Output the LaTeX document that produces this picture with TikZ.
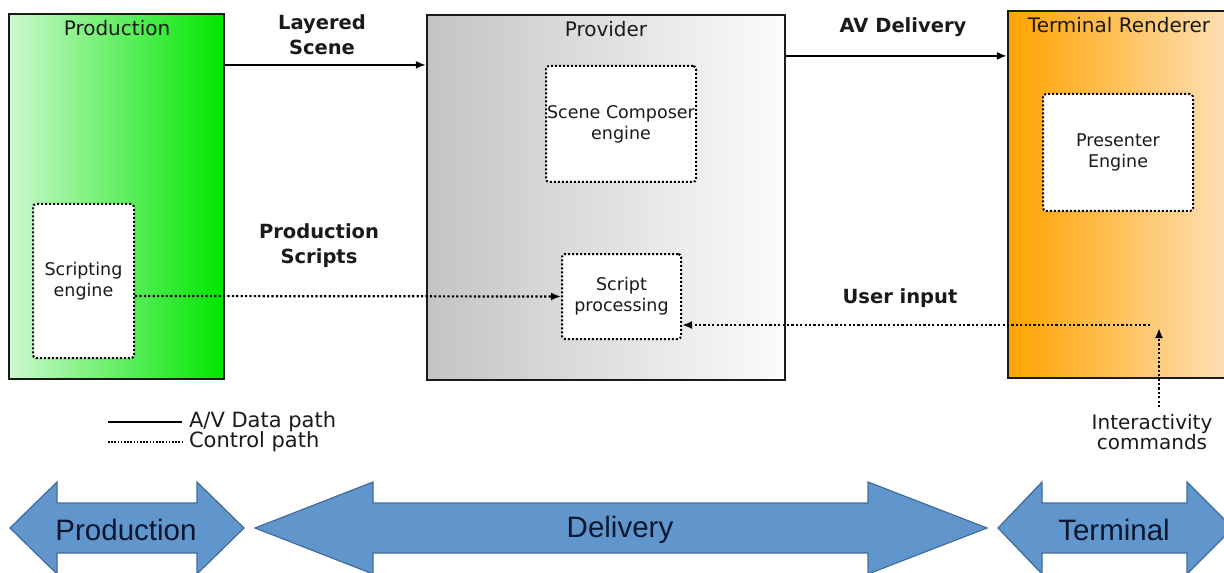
\documentclass[tikz,border=0pt]{standalone}
\usepackage{fontspec}
\setmainfont{DejaVu Sans}
\newfontfamily\stagefont{Liberation Sans}
\usetikzlibrary{arrows.meta}
\definecolor{ink}{HTML}{1A1A1A}
\definecolor{prod-light}{HTML}{CDF8CD}
\definecolor{prod-green}{HTML}{00E600}
\definecolor{prov-dark}{HTML}{C4C4C4}
\definecolor{prov-light}{HTML}{FCFCFC}
\definecolor{term-orange}{HTML}{FFA300}
\definecolor{term-light}{HTML}{FEE6C8}
\definecolor{stage-blue}{HTML}{6096CB}
\definecolor{stage-edge}{HTML}{3F6D9C}
\definecolor{stage-ink}{HTML}{0B1730}

\begin{document}
\begin{tikzpicture}[x=0.5pt, y=-0.5pt,
  every node/.style={text=ink},
  block/.style={draw=ink, line width=1.1pt, inner sep=0pt},
  engine/.style={draw=black, fill=white, line width=1pt, dash pattern=on 1pt off 1pt,
    rounded corners=1.5pt, align=center, inner sep=0pt, font=\fontsize{8.75}{10.5}\selectfont},
  boxtitle/.style={font=\fontsize{10}{12}\selectfont},
  flowlabel/.style={font=\bfseries\fontsize{9.75}{12.5}\selectfont, align=center},
  legendtext/.style={font=\fontsize{10.5}{12}\selectfont},
  avpath/.style={line width=1pt, -{Latex[length=5pt,width=4pt]}},
  ctlpath/.style={line width=1.1pt, dash pattern=on 1.1pt off 1.1pt, -{Latex[length=5pt,width=4pt]}},
  stage/.style={fill=stage-blue, draw=stage-edge, line width=0.6pt},
  stagetext/.style={font=\stagefont\fontsize{14.75}{16}\selectfont, text=stage-ink}]
  \useasboundingbox (0,0) rectangle (1224,572);
  \clip (0,0) rectangle (1224,572);

  % main blocks
  \node[block, left color=prod-light, right color=prod-green,
    minimum width=107.5pt, minimum height=182.5pt] (prod) at (116.5,196.5) {};
  \node[block, left color=prov-dark, right color=prov-light,
    minimum width=179pt, minimum height=182.5pt] (prov) at (606,197.5) {};
  \node[block, left color=term-orange, right color=term-light,
    minimum width=121pt, minimum height=183.5pt] (term) at (1129,194.5) {};

  \node[boxtitle] (prodtitle) at (117,28) {Production};
  \node[boxtitle] (provtitle) at (606,29) {Provider};
  \node[boxtitle] (termtitle) at (1119,25) {Terminal Renderer};

  % engines
  \node[engine, minimum width=50.5pt, minimum height=77pt] (scripting) at (83.5,281) {Scripting\\engine};
  \node[engine, minimum width=75pt, minimum height=58pt] (composer) at (621,124) {Scene Composer\\engine};
  \node[engine, minimum width=59.5pt, minimum height=42.5pt] (proc) at (621.5,296.5) {Script\\processing};
  \node[engine, minimum width=75pt, minimum height=58.5pt] (presenter) at (1118,152.5) {Presenter\\Engine};

  % paths
  \node[flowlabel] (layered) at (322,35) {Layered\\Scene};
  \node[flowlabel] (avdelivery) at (903,27) {AV Delivery};
  \node[flowlabel] (prodscripts) at (319,246) {Production\\Scripts};
  \node[flowlabel] (userinput) at (900,298) {User input};

  \draw[avpath] ([yshift=-26pt]prod.north east) -- ([yshift=-25.5pt]prov.north west);
  \draw[avpath] ([yshift=-21pt]prov.north east) -- ([yshift=-23pt]term.north west);
  \draw[ctlpath] ([yshift=-7.5pt]scripting.east) -- (proc.west);

  \coordinate (uistart) at (1150,325);
  \coordinate (cmdtip) at (1159,328);
  \draw[ctlpath] (uistart) -- ([yshift=-14.25pt]proc.east);
  \node[font=\fontsize{10}{10}\selectfont, align=center] (cmds) at (1152,432) {Interactivity\\commands};
  \draw[ctlpath] (cmds.north -| cmdtip) -- (cmdtip);

  % legend
  \coordinate (lgavstart) at (108,422);
  \coordinate (lgctlstart) at (108,442);
  \node[legendtext, anchor=west] (lgav) at (182,422) {A/V Data path};
  \node[legendtext, anchor=west] (lgctl) at (182,442) {Control path};
  \draw[line width=1pt] (lgavstart) -- (lgav.west);
  \draw[line width=0.8pt, dash pattern=on 0.8pt off 0.8pt] (lgctlstart) -- (lgctl.west);

  % stages
  \draw[stage] (10,528) -- (57,482) -- (57,503) -- (197,503) -- (197,482) -- (244,528)
    -- (197,574) -- (197,553) -- (57,553) -- (57,574) -- cycle;
  \draw[stage] (255,528) -- (373,482) -- (373,503) -- (868,503) -- (868,482) -- (987,528)
    -- (868,574) -- (868,553) -- (373,553) -- (373,574) -- cycle;
  \draw[stage] (998,528) -- (1042,482) -- (1042,503) -- (1187,503) -- (1187,482) -- (1233,528)
    -- (1187,574) -- (1187,553) -- (1042,553) -- (1042,574) -- cycle;
  \node[stagetext] (stageprod) at (126,530) {Production};
  \node[stagetext] (stagedel) at (620,530) {Delivery};
  \node[stagetext] (stageterm) at (1114,530) {Terminal};
\end{tikzpicture}
\end{document}
